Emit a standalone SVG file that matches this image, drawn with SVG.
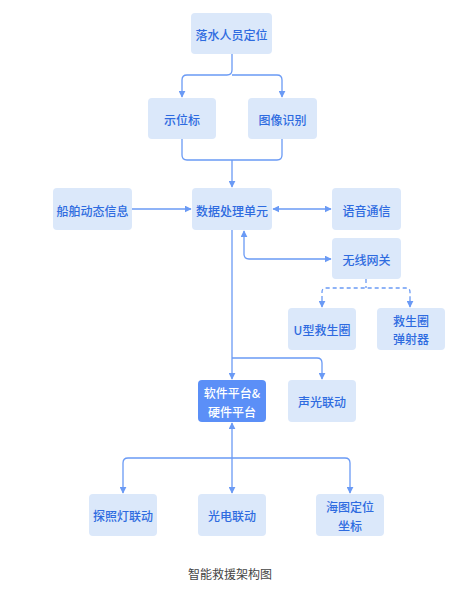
<svg xmlns="http://www.w3.org/2000/svg" width="470" height="594" viewBox="0 0 470 594">
<style>
.box{fill:#dbe8fa;}
.dark{fill:#5b8ff7;}
.t{font-family:"Noto Sans CJK SC","Noto Sans",sans-serif;font-size:12px;fill:#2e6be0;text-anchor:middle;dominant-baseline:central;font-weight:500;}
.tw{fill:#ffffff;}
.ln{fill:none;stroke:#6a9af5;stroke-width:1.3;}
.dash{stroke-dasharray:4 3;}
.cap{font-family:"Noto Sans CJK SC","Noto Sans",sans-serif;font-size:12px;fill:#444;text-anchor:middle;dominant-baseline:central;}
</style>
<defs>
<marker id="ah" viewBox="0 0 10 10" refX="9" refY="5" markerWidth="7" markerHeight="7" orient="auto-start-reverse" markerUnits="userSpaceOnUse">
<path d="M0,0 L10,5 L0,10 z" fill="#6a9af5"/>
</marker>
</defs>
<rect width="470" height="594" fill="#ffffff"/>
<g id="connectors">
<path class="ln" d="M232,54 V70 Q232,75 227,75 H187 Q182,75 182,80 V97" marker-end="url(#ah)"/>
<path class="ln" d="M232,75 H277 Q282,75 282,80 V97" marker-end="url(#ah)"/>
<path class="ln" d="M182,139 V155 Q182,160 187,160 H277 Q282,160 282,155 V139"/>
<path class="ln" d="M232,160 V187" marker-end="url(#ah)"/>
<path class="ln" d="M132,209 H191" marker-end="url(#ah)"/>
<path class="ln" d="M273,209 H331" marker-start="url(#ah)" marker-end="url(#ah)"/>
<path class="ln" d="M244,231 V254 Q244,259 249,259 H331" marker-start="url(#ah)" marker-end="url(#ah)"/>
<path class="ln dash" d="M366,279 V288 M322,307 V292 Q322,288 326,288 H406 Q410,288 410,292 V307"/>
<path class="ln dash" d="M322,300 V307" marker-end="url(#ah)"/>
<path class="ln dash" d="M410,300 V307" marker-end="url(#ah)"/>
<path class="ln" d="M232,230 V379" marker-end="url(#ah)"/>
<path class="ln" d="M232,358 H317 Q322,358 322,363 V379" marker-end="url(#ah)"/>
<path class="ln" d="M232,423 V493" marker-start="url(#ah)" marker-end="url(#ah)"/>
<path class="ln" d="M232,458 H128 Q123,458 123,463 V493" marker-end="url(#ah)"/>
<path class="ln" d="M232,458 H345 Q350,458 350,463 V493" marker-end="url(#ah)"/>
</g>
<g id="n1"><rect class="box" x="191" y="13" width="81" height="41" rx="4"/><text class="t" x="231.5" y="34">落水人员定位</text></g>
<g id="n2"><rect class="box" x="148" y="98" width="68" height="41" rx="4"/><text class="t" x="182" y="119">示位标</text></g>
<g id="n3"><rect class="box" x="248" y="98" width="69" height="41" rx="4"/><text class="t" x="282.5" y="119">图像识别</text></g>
<g id="n4"><rect class="box" x="53" y="188" width="79" height="42" rx="4"/><text class="t" x="92.5" y="210">船舶动态信息</text></g>
<g id="n5"><rect class="box" x="192" y="188" width="80" height="42" rx="4"/><text class="t" x="232" y="210">数据处理单元</text></g>
<g id="n6"><rect class="box" x="332" y="188" width="69" height="42" rx="4"/><text class="t" x="366.5" y="210">语音通信</text></g>
<g id="n7"><rect class="box" x="332" y="238" width="69" height="41" rx="4"/><text class="t" x="366.5" y="259">无线网关</text></g>
<g id="n8"><rect class="box" x="288" y="308" width="68" height="42" rx="4"/><text class="t" x="322" y="329">U型救生圈</text></g>
<g id="n9"><rect class="box" x="377" y="308" width="68" height="42" rx="4"/><text class="t" x="411" y="320">救生圈</text><text class="t" x="411" y="338">弹射器</text></g>
<g id="n10"><rect class="dark" x="198" y="380" width="68" height="42" rx="4"/><text class="t tw" x="232" y="392">软件平台&amp;</text><text class="t tw" x="232" y="411">硬件平台</text></g>
<g id="n11"><rect class="box" x="288" y="380" width="68" height="42" rx="4"/><text class="t" x="322" y="401">声光联动</text></g>
<g id="n12"><rect class="box" x="89" y="494" width="68" height="42" rx="4"/><text class="t" x="123" y="515">探照灯联动</text></g>
<g id="n13"><rect class="box" x="198" y="494" width="68" height="42" rx="4"/><text class="t" x="232" y="515">光电联动</text></g>
<g id="n14"><rect class="box" x="316" y="494" width="68" height="42" rx="4"/><text class="t" x="350" y="506">海图定位</text><text class="t" x="350" y="525">坐标</text></g>
<text class="cap" x="230" y="573">智能救援架构图</text>
</svg>
